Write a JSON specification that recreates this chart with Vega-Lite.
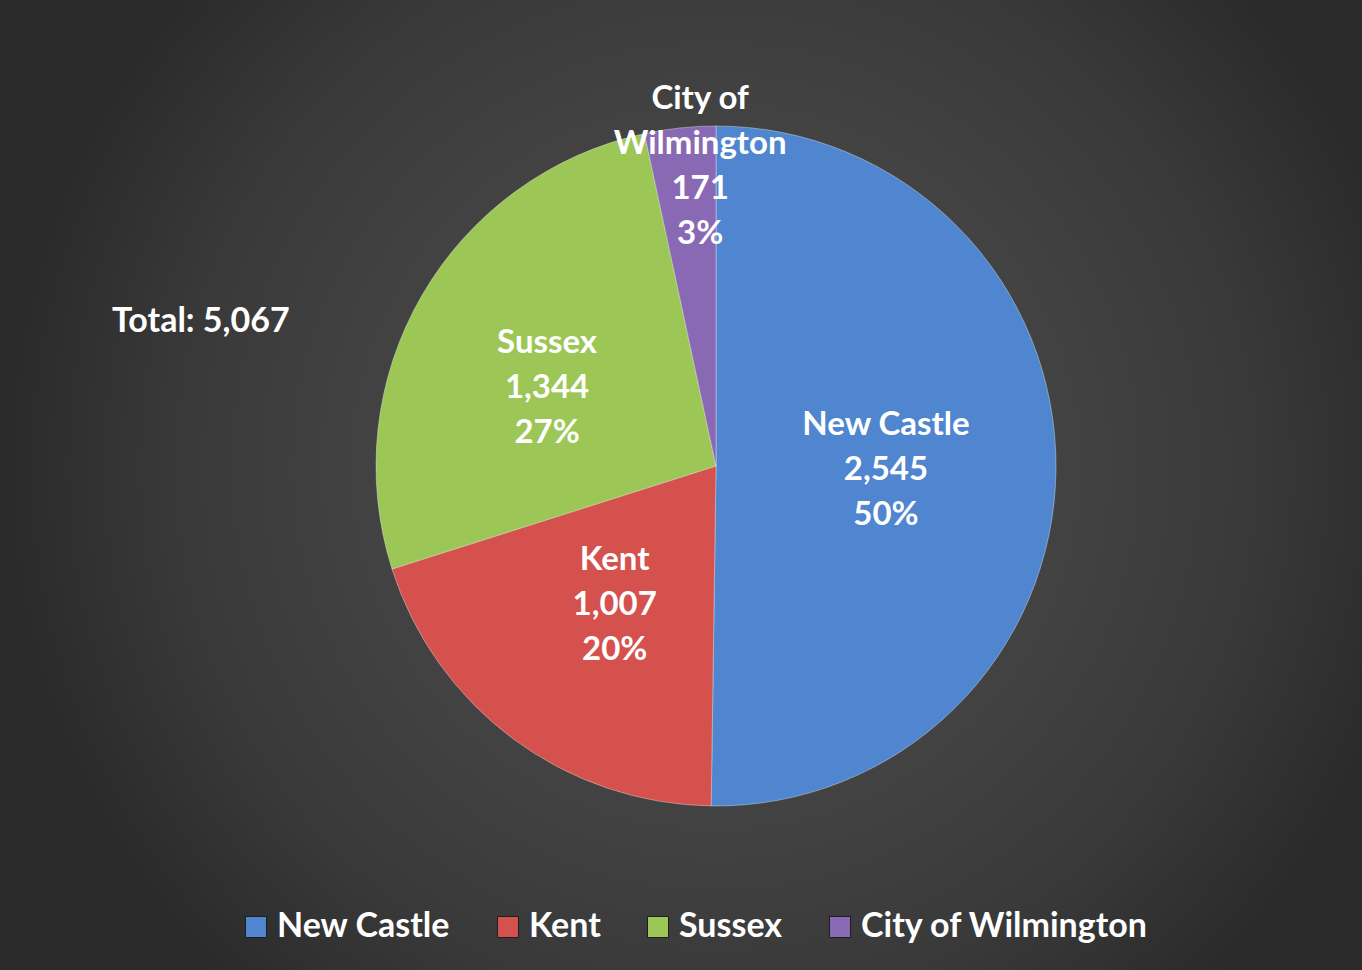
{
  "$schema": "https://vega.github.io/schema/vega-lite/v6.json",
  "width": 1362,
  "height": 970,
  "autosize": {"type": "fit", "contains": "padding"},
  "padding": {"left": 0, "right": -70, "top": -38, "bottom": 0},
  "background": "#2a2a2a",
  "view": {
    "stroke": null,
    "fill": {
      "gradient": "radial",
      "x1": 0.5, "y1": 0.5, "r1": 0,
      "x2": 0.5, "y2": 0.5, "r2": 0.5,
      "stops": [
        {"offset": 0, "color": "#4a4a4a"},
        {"offset": 0.5, "color": "#424242"},
        {"offset": 0.75, "color": "#393939"},
        {"offset": 1, "color": "#2a2a2a"}
      ]
    }
  },
  "title": {
    "text": "Total: 5,067",
    "anchor": "start",
    "frame": "group",
    "dx": 112,
    "dy": 381,
    "font": "Lato",
    "fontSize": 34,
    "fontWeight": "bold",
    "color": "#ffffff"
  },
  "data": {
    "values": [
      {"idx": 1, "name": "New Castle", "value": 2545, "label": "New Castle\n2,545\n50%"},
      {"idx": 2, "name": "Kent", "value": 1007, "label": "Kent\n1,007\n20%"},
      {"idx": 3, "name": "Sussex", "value": 1344, "label": "Sussex\n1,344\n27%"},
      {"idx": 4, "name": "City of Wilmington", "value": 171, "label": "City of\nWilmington\n171\n3%"}
    ]
  },
  "encoding": {
    "theta": {"field": "value", "type": "quantitative", "stack": true},
    "order": {"field": "idx", "type": "quantitative"}
  },
  "layer": [
    {
      "mark": {"type": "arc", "outerRadius": 340, "stroke": "#ffffff", "strokeOpacity": 0.35, "strokeWidth": 1},
      "encoding": {
        "color": {
          "field": "name",
          "type": "nominal",
          "scale": {
            "domain": ["New Castle", "Kent", "Sussex", "City of Wilmington"],
            "range": ["#4f86cf", "#d4514e", "#9cc656", "#8a69b4"]
          },
          "legend": {
            "title": null,
            "orient": "none",
            "legendX": 239,
            "legendY": 948,
            "direction": "horizontal",
            "symbolType": "square",
            "symbolSize": 441,
            "symbolStrokeColor": "#1e1e1e",
            "symbolStrokeWidth": 1,
            "labelFont": "Lato",
            "labelFontSize": 34,
            "labelFontWeight": "bold",
            "labelColor": "#ffffff",
            "labelOffset": 4,
            "columnPadding": 40,
            "labelLimit": 400
          }
        }
      }
    },
    {
      "mark": {"type": "text", "radius": 170, "dy": -42, "font": "Lato", "fontSize": 33, "fontWeight": "bold", "color": "#ffffff", "lineBreak": "\n", "lineHeight": 45, "align": "center", "baseline": "middle"},
      "encoding": {
        "text": {"condition": {"test": "datum.name === 'New Castle' || datum.name === 'Kent'", "field": "label"}, "value": ""}
      }
    },
    {
      "mark": {"type": "text", "radius": 186, "dx": -8, "dy": -30, "font": "Lato", "fontSize": 33, "fontWeight": "bold", "color": "#ffffff", "lineBreak": "\n", "lineHeight": 45, "align": "center", "baseline": "middle"},
      "encoding": {
        "text": {"condition": {"test": "datum.name === 'Sussex'", "field": "label"}, "value": ""}
      }
    },
    {
      "mark": {"type": "text", "radius": 301, "dx": 16, "dy": -68, "font": "Lato", "fontSize": 33, "fontWeight": "bold", "color": "#ffffff", "lineBreak": "\n", "lineHeight": 45, "align": "center", "baseline": "middle"},
      "encoding": {
        "text": {"condition": {"test": "datum.name === 'City of Wilmington'", "field": "label"}, "value": ""}
      }
    }
  ]
}
